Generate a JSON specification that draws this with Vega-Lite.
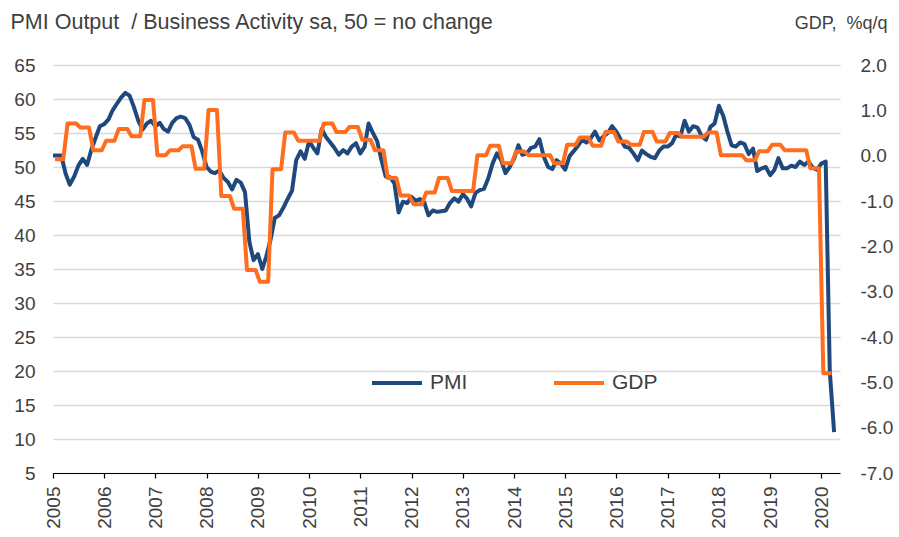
{
"$schema":"https://vega.github.io/schema/vega-lite/v6.json",
"width":787,"height":408,
"autosize":{"type":"none"},
"padding":{"left":53,"top":65,"right":59,"bottom":64},
"background":"white",
"config":{"font":"Liberation Sans","view":{"stroke":null}},
"data":{"values":[
{"date":"2005-01-01","series":"PMI","value":51.7},{"date":"2005-02-01","series":"PMI","value":51.7},{"date":"2005-03-01","series":"PMI","value":51.7},{"date":"2005-04-01","series":"PMI","value":49.0},{"date":"2005-05-01","series":"PMI","value":47.4},{"date":"2005-06-01","series":"PMI","value":48.6},{"date":"2005-07-01","series":"PMI","value":50.2},{"date":"2005-08-01","series":"PMI","value":51.2},{"date":"2005-09-01","series":"PMI","value":50.3},{"date":"2005-10-01","series":"PMI","value":52.5},{"date":"2005-11-01","series":"PMI","value":54.3},{"date":"2005-12-01","series":"PMI","value":56.0},
{"date":"2006-01-01","series":"PMI","value":56.3},{"date":"2006-02-01","series":"PMI","value":57.0},{"date":"2006-03-01","series":"PMI","value":58.3},{"date":"2006-04-01","series":"PMI","value":59.3},{"date":"2006-05-01","series":"PMI","value":60.2},{"date":"2006-06-01","series":"PMI","value":60.9},{"date":"2006-07-01","series":"PMI","value":60.5},{"date":"2006-08-01","series":"PMI","value":58.8},{"date":"2006-09-01","series":"PMI","value":56.8},{"date":"2006-10-01","series":"PMI","value":55.5},{"date":"2006-11-01","series":"PMI","value":56.4},{"date":"2006-12-01","series":"PMI","value":56.8},
{"date":"2007-01-01","series":"PMI","value":56.0},{"date":"2007-02-01","series":"PMI","value":56.5},{"date":"2007-03-01","series":"PMI","value":55.6},{"date":"2007-04-01","series":"PMI","value":55.2},{"date":"2007-05-01","series":"PMI","value":56.5},{"date":"2007-06-01","series":"PMI","value":57.2},{"date":"2007-07-01","series":"PMI","value":57.4},{"date":"2007-08-01","series":"PMI","value":57.2},{"date":"2007-09-01","series":"PMI","value":56.2},{"date":"2007-10-01","series":"PMI","value":54.4},{"date":"2007-11-01","series":"PMI","value":54.0},{"date":"2007-12-01","series":"PMI","value":52.3},
{"date":"2008-01-01","series":"PMI","value":50.0},{"date":"2008-02-01","series":"PMI","value":49.3},{"date":"2008-03-01","series":"PMI","value":49.1},{"date":"2008-04-01","series":"PMI","value":49.5},{"date":"2008-05-01","series":"PMI","value":48.4},{"date":"2008-06-01","series":"PMI","value":47.8},{"date":"2008-07-01","series":"PMI","value":46.7},{"date":"2008-08-01","series":"PMI","value":48.1},{"date":"2008-09-01","series":"PMI","value":47.7},{"date":"2008-10-01","series":"PMI","value":46.3},{"date":"2008-11-01","series":"PMI","value":39.0},{"date":"2008-12-01","series":"PMI","value":36.3},
{"date":"2009-01-01","series":"PMI","value":37.2},{"date":"2009-02-01","series":"PMI","value":35.0},{"date":"2009-03-01","series":"PMI","value":36.8},{"date":"2009-04-01","series":"PMI","value":39.3},{"date":"2009-05-01","series":"PMI","value":42.5},{"date":"2009-06-01","series":"PMI","value":42.9},{"date":"2009-07-01","series":"PMI","value":44.0},{"date":"2009-08-01","series":"PMI","value":45.3},{"date":"2009-09-01","series":"PMI","value":46.5},{"date":"2009-10-01","series":"PMI","value":51.0},{"date":"2009-11-01","series":"PMI","value":52.3},{"date":"2009-12-01","series":"PMI","value":51.2},
{"date":"2010-01-01","series":"PMI","value":53.8},{"date":"2010-02-01","series":"PMI","value":52.8},{"date":"2010-03-01","series":"PMI","value":52.0},{"date":"2010-04-01","series":"PMI","value":55.6},{"date":"2010-05-01","series":"PMI","value":54.4},{"date":"2010-06-01","series":"PMI","value":53.6},{"date":"2010-07-01","series":"PMI","value":52.8},{"date":"2010-08-01","series":"PMI","value":51.8},{"date":"2010-09-01","series":"PMI","value":52.5},{"date":"2010-10-01","series":"PMI","value":52.0},{"date":"2010-11-01","series":"PMI","value":53.0},{"date":"2010-12-01","series":"PMI","value":53.5},
{"date":"2011-01-01","series":"PMI","value":52.0},{"date":"2011-02-01","series":"PMI","value":53.0},{"date":"2011-03-01","series":"PMI","value":56.4},{"date":"2011-04-01","series":"PMI","value":55.0},{"date":"2011-05-01","series":"PMI","value":53.8},{"date":"2011-06-01","series":"PMI","value":51.0},{"date":"2011-07-01","series":"PMI","value":48.6},{"date":"2011-08-01","series":"PMI","value":48.5},{"date":"2011-09-01","series":"PMI","value":47.6},{"date":"2011-10-01","series":"PMI","value":43.3},{"date":"2011-11-01","series":"PMI","value":44.9},{"date":"2011-12-01","series":"PMI","value":44.7},
{"date":"2012-01-01","series":"PMI","value":45.6},{"date":"2012-02-01","series":"PMI","value":45.0},{"date":"2012-03-01","series":"PMI","value":45.3},{"date":"2012-04-01","series":"PMI","value":44.8},{"date":"2012-05-01","series":"PMI","value":42.9},{"date":"2012-06-01","series":"PMI","value":43.6},{"date":"2012-07-01","series":"PMI","value":43.4},{"date":"2012-08-01","series":"PMI","value":43.5},{"date":"2012-09-01","series":"PMI","value":43.6},{"date":"2012-10-01","series":"PMI","value":44.7},{"date":"2012-11-01","series":"PMI","value":45.4},{"date":"2012-12-01","series":"PMI","value":44.9},
{"date":"2013-01-01","series":"PMI","value":46.0},{"date":"2013-02-01","series":"PMI","value":45.3},{"date":"2013-03-01","series":"PMI","value":44.2},{"date":"2013-04-01","series":"PMI","value":46.2},{"date":"2013-05-01","series":"PMI","value":46.6},{"date":"2013-06-01","series":"PMI","value":46.8},{"date":"2013-07-01","series":"PMI","value":48.3},{"date":"2013-08-01","series":"PMI","value":50.5},{"date":"2013-09-01","series":"PMI","value":52.0},{"date":"2013-10-01","series":"PMI","value":51.0},{"date":"2013-11-01","series":"PMI","value":49.1},{"date":"2013-12-01","series":"PMI","value":50.0},
{"date":"2014-01-01","series":"PMI","value":51.2},{"date":"2014-02-01","series":"PMI","value":53.2},{"date":"2014-03-01","series":"PMI","value":51.8},{"date":"2014-04-01","series":"PMI","value":52.0},{"date":"2014-05-01","series":"PMI","value":52.8},{"date":"2014-06-01","series":"PMI","value":53.0},{"date":"2014-07-01","series":"PMI","value":54.1},{"date":"2014-08-01","series":"PMI","value":51.5},{"date":"2014-09-01","series":"PMI","value":50.0},{"date":"2014-10-01","series":"PMI","value":49.7},{"date":"2014-11-01","series":"PMI","value":51.0},{"date":"2014-12-01","series":"PMI","value":50.5},
{"date":"2015-01-01","series":"PMI","value":49.6},{"date":"2015-02-01","series":"PMI","value":51.6},{"date":"2015-03-01","series":"PMI","value":52.3},{"date":"2015-04-01","series":"PMI","value":53.1},{"date":"2015-05-01","series":"PMI","value":54.0},{"date":"2015-06-01","series":"PMI","value":53.6},{"date":"2015-07-01","series":"PMI","value":54.2},{"date":"2015-08-01","series":"PMI","value":55.2},{"date":"2015-09-01","series":"PMI","value":53.9},{"date":"2015-10-01","series":"PMI","value":54.5},{"date":"2015-11-01","series":"PMI","value":55.0},{"date":"2015-12-01","series":"PMI","value":56.0},
{"date":"2016-01-01","series":"PMI","value":55.2},{"date":"2016-02-01","series":"PMI","value":54.0},{"date":"2016-03-01","series":"PMI","value":53.0},{"date":"2016-04-01","series":"PMI","value":52.8},{"date":"2016-05-01","series":"PMI","value":52.0},{"date":"2016-06-01","series":"PMI","value":51.0},{"date":"2016-07-01","series":"PMI","value":52.4},{"date":"2016-08-01","series":"PMI","value":51.9},{"date":"2016-09-01","series":"PMI","value":51.5},{"date":"2016-10-01","series":"PMI","value":51.3},{"date":"2016-11-01","series":"PMI","value":52.4},{"date":"2016-12-01","series":"PMI","value":53.0},
{"date":"2017-01-01","series":"PMI","value":53.0},{"date":"2017-02-01","series":"PMI","value":53.5},{"date":"2017-03-01","series":"PMI","value":54.7},{"date":"2017-04-01","series":"PMI","value":54.5},{"date":"2017-05-01","series":"PMI","value":56.8},{"date":"2017-06-01","series":"PMI","value":55.2},{"date":"2017-07-01","series":"PMI","value":56.0},{"date":"2017-08-01","series":"PMI","value":55.8},{"date":"2017-09-01","series":"PMI","value":54.5},{"date":"2017-10-01","series":"PMI","value":54.0},{"date":"2017-11-01","series":"PMI","value":55.9},{"date":"2017-12-01","series":"PMI","value":56.4},
{"date":"2018-01-01","series":"PMI","value":59.0},{"date":"2018-02-01","series":"PMI","value":57.5},{"date":"2018-03-01","series":"PMI","value":55.3},{"date":"2018-04-01","series":"PMI","value":53.2},{"date":"2018-05-01","series":"PMI","value":53.0},{"date":"2018-06-01","series":"PMI","value":53.6},{"date":"2018-07-01","series":"PMI","value":53.4},{"date":"2018-08-01","series":"PMI","value":51.9},{"date":"2018-09-01","series":"PMI","value":52.7},{"date":"2018-10-01","series":"PMI","value":49.4},{"date":"2018-11-01","series":"PMI","value":49.8},{"date":"2018-12-01","series":"PMI","value":50.0},
{"date":"2019-01-01","series":"PMI","value":48.8},{"date":"2019-02-01","series":"PMI","value":49.6},{"date":"2019-03-01","series":"PMI","value":51.3},{"date":"2019-04-01","series":"PMI","value":49.8},{"date":"2019-05-01","series":"PMI","value":49.8},{"date":"2019-06-01","series":"PMI","value":50.2},{"date":"2019-07-01","series":"PMI","value":50.0},{"date":"2019-08-01","series":"PMI","value":50.8},{"date":"2019-09-01","series":"PMI","value":50.3},{"date":"2019-10-01","series":"PMI","value":50.8},{"date":"2019-11-01","series":"PMI","value":49.9},{"date":"2019-12-01","series":"PMI","value":49.6},
{"date":"2020-01-01","series":"PMI","value":50.5},{"date":"2020-02-01","series":"PMI","value":50.8},{"date":"2020-03-01","series":"PMI","value":20.0},{"date":"2020-04-01","series":"PMI","value":11.0},
{"date":"2005-01-15","series":"GDP","value":-0.08},{"date":"2005-02-15","series":"GDP","value":-0.08},{"date":"2005-03-15","series":"GDP","value":-0.08},{"date":"2005-04-15","series":"GDP","value":0.71},{"date":"2005-05-15","series":"GDP","value":0.71},{"date":"2005-06-15","series":"GDP","value":0.71},{"date":"2005-07-15","series":"GDP","value":0.62},{"date":"2005-08-15","series":"GDP","value":0.62},{"date":"2005-09-15","series":"GDP","value":0.62},{"date":"2005-10-15","series":"GDP","value":0.12},{"date":"2005-11-15","series":"GDP","value":0.12},{"date":"2005-12-15","series":"GDP","value":0.12},
{"date":"2006-01-15","series":"GDP","value":0.33},{"date":"2006-02-15","series":"GDP","value":0.33},{"date":"2006-03-15","series":"GDP","value":0.33},{"date":"2006-04-15","series":"GDP","value":0.59},{"date":"2006-05-15","series":"GDP","value":0.59},{"date":"2006-06-15","series":"GDP","value":0.59},{"date":"2006-07-15","series":"GDP","value":0.43},{"date":"2006-08-15","series":"GDP","value":0.43},{"date":"2006-09-15","series":"GDP","value":0.43},{"date":"2006-10-15","series":"GDP","value":1.23},{"date":"2006-11-15","series":"GDP","value":1.23},{"date":"2006-12-15","series":"GDP","value":1.23},
{"date":"2007-01-15","series":"GDP","value":0.01},{"date":"2007-02-15","series":"GDP","value":0.01},{"date":"2007-03-15","series":"GDP","value":0.01},{"date":"2007-04-15","series":"GDP","value":0.12},{"date":"2007-05-15","series":"GDP","value":0.12},{"date":"2007-06-15","series":"GDP","value":0.12},{"date":"2007-07-15","series":"GDP","value":0.21},{"date":"2007-08-15","series":"GDP","value":0.21},{"date":"2007-09-15","series":"GDP","value":0.21},{"date":"2007-10-15","series":"GDP","value":-0.29},{"date":"2007-11-15","series":"GDP","value":-0.29},{"date":"2007-12-15","series":"GDP","value":-0.29},
{"date":"2008-01-15","series":"GDP","value":1.01},{"date":"2008-02-15","series":"GDP","value":1.01},{"date":"2008-03-15","series":"GDP","value":1.01},{"date":"2008-04-15","series":"GDP","value":-0.89},{"date":"2008-05-15","series":"GDP","value":-0.89},{"date":"2008-06-15","series":"GDP","value":-0.89},{"date":"2008-07-15","series":"GDP","value":-1.17},{"date":"2008-08-15","series":"GDP","value":-1.17},{"date":"2008-09-15","series":"GDP","value":-1.17},{"date":"2008-10-15","series":"GDP","value":-2.52},{"date":"2008-11-15","series":"GDP","value":-2.52},{"date":"2008-12-15","series":"GDP","value":-2.52},
{"date":"2009-01-15","series":"GDP","value":-2.78},{"date":"2009-02-15","series":"GDP","value":-2.78},{"date":"2009-03-15","series":"GDP","value":-2.78},{"date":"2009-04-15","series":"GDP","value":-0.30},{"date":"2009-05-15","series":"GDP","value":-0.30},{"date":"2009-06-15","series":"GDP","value":-0.30},{"date":"2009-07-15","series":"GDP","value":0.51},{"date":"2009-08-15","series":"GDP","value":0.51},{"date":"2009-09-15","series":"GDP","value":0.51},{"date":"2009-10-15","series":"GDP","value":0.33},{"date":"2009-11-15","series":"GDP","value":0.33},{"date":"2009-12-15","series":"GDP","value":0.33},
{"date":"2010-01-15","series":"GDP","value":0.33},{"date":"2010-02-15","series":"GDP","value":0.33},{"date":"2010-03-15","series":"GDP","value":0.33},{"date":"2010-04-15","series":"GDP","value":0.71},{"date":"2010-05-15","series":"GDP","value":0.71},{"date":"2010-06-15","series":"GDP","value":0.71},{"date":"2010-07-15","series":"GDP","value":0.52},{"date":"2010-08-15","series":"GDP","value":0.52},{"date":"2010-09-15","series":"GDP","value":0.52},{"date":"2010-10-15","series":"GDP","value":0.63},{"date":"2010-11-15","series":"GDP","value":0.63},{"date":"2010-12-15","series":"GDP","value":0.63},
{"date":"2011-01-15","series":"GDP","value":0.35},{"date":"2011-02-15","series":"GDP","value":0.35},{"date":"2011-03-15","series":"GDP","value":0.35},{"date":"2011-04-15","series":"GDP","value":0.12},{"date":"2011-05-15","series":"GDP","value":0.12},{"date":"2011-06-15","series":"GDP","value":0.12},{"date":"2011-07-15","series":"GDP","value":-0.49},{"date":"2011-08-15","series":"GDP","value":-0.49},{"date":"2011-09-15","series":"GDP","value":-0.49},{"date":"2011-10-15","series":"GDP","value":-0.88},{"date":"2011-11-15","series":"GDP","value":-0.88},{"date":"2011-12-15","series":"GDP","value":-0.88},
{"date":"2012-01-15","series":"GDP","value":-1.07},{"date":"2012-02-15","series":"GDP","value":-1.07},{"date":"2012-03-15","series":"GDP","value":-1.07},{"date":"2012-04-15","series":"GDP","value":-0.81},{"date":"2012-05-15","series":"GDP","value":-0.81},{"date":"2012-06-15","series":"GDP","value":-0.81},{"date":"2012-07-15","series":"GDP","value":-0.49},{"date":"2012-08-15","series":"GDP","value":-0.49},{"date":"2012-09-15","series":"GDP","value":-0.49},{"date":"2012-10-15","series":"GDP","value":-0.78},{"date":"2012-11-15","series":"GDP","value":-0.78},{"date":"2012-12-15","series":"GDP","value":-0.78},
{"date":"2013-01-15","series":"GDP","value":-0.78},{"date":"2013-02-15","series":"GDP","value":-0.78},{"date":"2013-03-15","series":"GDP","value":-0.78},{"date":"2013-04-15","series":"GDP","value":0.01},{"date":"2013-05-15","series":"GDP","value":0.01},{"date":"2013-06-15","series":"GDP","value":0.01},{"date":"2013-07-15","series":"GDP","value":0.22},{"date":"2013-08-15","series":"GDP","value":0.22},{"date":"2013-09-15","series":"GDP","value":0.22},{"date":"2013-10-15","series":"GDP","value":-0.17},{"date":"2013-11-15","series":"GDP","value":-0.17},{"date":"2013-12-15","series":"GDP","value":-0.17},
{"date":"2014-01-15","series":"GDP","value":0.09},{"date":"2014-02-15","series":"GDP","value":0.09},{"date":"2014-03-15","series":"GDP","value":0.09},{"date":"2014-04-15","series":"GDP","value":0.01},{"date":"2014-05-15","series":"GDP","value":0.01},{"date":"2014-06-15","series":"GDP","value":0.01},{"date":"2014-07-15","series":"GDP","value":0.01},{"date":"2014-08-15","series":"GDP","value":0.01},{"date":"2014-09-15","series":"GDP","value":0.01},{"date":"2014-10-15","series":"GDP","value":-0.17},{"date":"2014-11-15","series":"GDP","value":-0.17},{"date":"2014-12-15","series":"GDP","value":-0.17},
{"date":"2015-01-15","series":"GDP","value":0.24},{"date":"2015-02-15","series":"GDP","value":0.24},{"date":"2015-03-15","series":"GDP","value":0.24},{"date":"2015-04-15","series":"GDP","value":0.40},{"date":"2015-05-15","series":"GDP","value":0.40},{"date":"2015-06-15","series":"GDP","value":0.40},{"date":"2015-07-15","series":"GDP","value":0.22},{"date":"2015-08-15","series":"GDP","value":0.22},{"date":"2015-09-15","series":"GDP","value":0.22},{"date":"2015-10-15","series":"GDP","value":0.52},{"date":"2015-11-15","series":"GDP","value":0.52},{"date":"2015-12-15","series":"GDP","value":0.52},
{"date":"2016-01-15","series":"GDP","value":0.31},{"date":"2016-02-15","series":"GDP","value":0.31},{"date":"2016-03-15","series":"GDP","value":0.31},{"date":"2016-04-15","series":"GDP","value":0.24},{"date":"2016-05-15","series":"GDP","value":0.24},{"date":"2016-06-15","series":"GDP","value":0.24},{"date":"2016-07-15","series":"GDP","value":0.52},{"date":"2016-08-15","series":"GDP","value":0.52},{"date":"2016-09-15","series":"GDP","value":0.52},{"date":"2016-10-15","series":"GDP","value":0.31},{"date":"2016-11-15","series":"GDP","value":0.31},{"date":"2016-12-15","series":"GDP","value":0.31},
{"date":"2017-01-15","series":"GDP","value":0.50},{"date":"2017-02-15","series":"GDP","value":0.50},{"date":"2017-03-15","series":"GDP","value":0.50},{"date":"2017-04-15","series":"GDP","value":0.42},{"date":"2017-05-15","series":"GDP","value":0.42},{"date":"2017-06-15","series":"GDP","value":0.42},{"date":"2017-07-15","series":"GDP","value":0.42},{"date":"2017-08-15","series":"GDP","value":0.42},{"date":"2017-09-15","series":"GDP","value":0.42},{"date":"2017-10-15","series":"GDP","value":0.51},{"date":"2017-11-15","series":"GDP","value":0.51},{"date":"2017-12-15","series":"GDP","value":0.51},
{"date":"2018-01-15","series":"GDP","value":0.01},{"date":"2018-02-15","series":"GDP","value":0.01},{"date":"2018-03-15","series":"GDP","value":0.01},{"date":"2018-04-15","series":"GDP","value":0.01},{"date":"2018-05-15","series":"GDP","value":0.01},{"date":"2018-06-15","series":"GDP","value":0.01},{"date":"2018-07-15","series":"GDP","value":-0.10},{"date":"2018-08-15","series":"GDP","value":-0.10},{"date":"2018-09-15","series":"GDP","value":-0.10},{"date":"2018-10-15","series":"GDP","value":0.10},{"date":"2018-11-15","series":"GDP","value":0.10},{"date":"2018-12-15","series":"GDP","value":0.10},
{"date":"2019-01-15","series":"GDP","value":0.24},{"date":"2019-02-15","series":"GDP","value":0.24},{"date":"2019-03-15","series":"GDP","value":0.24},{"date":"2019-04-15","series":"GDP","value":0.12},{"date":"2019-05-15","series":"GDP","value":0.12},{"date":"2019-06-15","series":"GDP","value":0.12},{"date":"2019-07-15","series":"GDP","value":0.12},{"date":"2019-08-15","series":"GDP","value":0.12},{"date":"2019-09-15","series":"GDP","value":0.12},{"date":"2019-10-15","series":"GDP","value":-0.28},{"date":"2019-11-15","series":"GDP","value":-0.28},{"date":"2019-12-15","series":"GDP","value":-0.28},
{"date":"2020-01-15","series":"GDP","value":-4.80},{"date":"2020-02-15","series":"GDP","value":-4.80},{"date":"2020-03-15","series":"GDP","value":-4.80}
]},
"layer":[
{"transform":[{"filter":"datum.series === 'PMI'"}],
 "mark":{"type":"line","strokeWidth":4,"strokeJoin":"round"},
 "encoding":{
  "x":{"field":"date","type":"temporal",
   "scale":{"type":"utc","domain":[{"year":2005,"month":1,"date":1,"utc":true},{"year":2020,"month":5,"date":13,"utc":true}]},
   "axis":{"title":null,"format":"%Y","values":[{"year":2005,"utc":true},{"year":2006,"utc":true},{"year":2007,"utc":true},{"year":2008,"utc":true},{"year":2009,"utc":true},{"year":2010,"utc":true},{"year":2011,"utc":true},{"year":2012,"utc":true},{"year":2013,"utc":true},{"year":2014,"utc":true},{"year":2015,"utc":true},{"year":2016,"utc":true},{"year":2017,"utc":true},{"year":2018,"utc":true},{"year":2019,"utc":true},{"year":2020,"utc":true}],
    "labelAngle":-90,"labelAlign":"right","labelBaseline":"middle","labelPadding":8,"labelFontSize":19,"labelColor":"#404040","labelFont":"Liberation Sans",
    "grid":false,"domainColor":"#000000","domainWidth":1.2,"tickColor":"#000000","tickWidth":1.2,"tickSize":5,"labelFlush":false,"labelOverlap":false}},
  "y":{"field":"value","type":"quantitative",
   "scale":{"domain":[5,65],"nice":false,"zero":false},
   "axis":{"values":[5,10,15,20,25,30,35,40,45,50,55,60,65],"grid":true,"gridColor":"#d9d9d9","gridWidth":1.5,"domain":false,"ticks":false,
    "labelFontSize":19,"labelColor":"#404040","labelFont":"Liberation Sans","labelPadding":18,
    "title":"PMI Output \u00a0/ Business Activity sa, 50 = no change","titleAngle":0,"titleAlign":"left","titleBaseline":"alphabetic","titleX":-43,"titleY":-37,"titleFontSize":21.5,"titleFontWeight":"normal","titleColor":"#404040","titleFont":"Liberation Sans"}},
  "color":{"field":"series","type":"nominal",
   "scale":{"domain":["PMI","GDP"],"range":["#1F497D","#FF6D1F"]},
   "legend":{"orient":"none","legendX":317,"legendY":291,"direction":"horizontal","title":null,"symbolType":"stroke","symbolSize":2500,"symbolStrokeWidth":4,"labelFontSize":21,"labelOffset":6,"columnPadding":78,"labelColor":"#404040","labelFont":"Liberation Sans"}}
 }},
{"transform":[{"filter":"datum.series === 'GDP'"}],
 "mark":{"type":"line","strokeWidth":4,"strokeJoin":"round"},
 "encoding":{
  "x":{"field":"date","type":"temporal"},
  "y":{"field":"value","type":"quantitative",
   "scale":{"domain":[-7,2],"nice":false,"zero":false},
   "axis":{"orient":"right","values":[-7,-6,-5,-4,-3,-2,-1,0,1,2],"labelExpr":"replace(format(datum.value, '.1f'), '\u2212', '-')","grid":false,"domain":false,"ticks":false,
    "labelFontSize":19,"labelColor":"#404040","labelFont":"Liberation Sans","labelPadding":20,"labelAlign":"left",
    "title":"GDP, \u00a0%q/q","titleAngle":0,"titleAlign":"right","titleBaseline":"alphabetic","titleX":47,"titleY":-37,"titleFontSize":18,"titleFontWeight":"normal","titleColor":"#404040","titleFont":"Liberation Sans"}},
  "color":{"field":"series","type":"nominal"}
 }}
],
"resolve":{"scale":{"y":"independent"}}
}
